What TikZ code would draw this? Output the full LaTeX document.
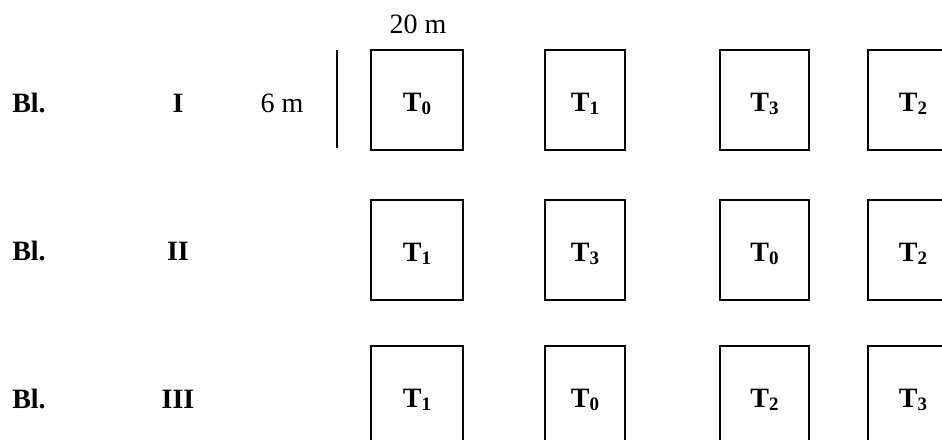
\documentclass[tikz,border=0pt]{standalone}
\usepackage{fontspec}
\setmainfont{Liberation Serif}
\newcommand\tlab[1]{T\raisebox{-3pt}{\fontsize{19}{19}\selectfont #1}}
\begin{document}
\begin{tikzpicture}[x=1pt,y=-1pt,
  plotbox/.style={draw, line width=1.5pt, inner sep=0pt, minimum height=100pt,
    font=\fontsize{28}{30}\selectfont\bfseries, text height=23pt, text depth=0pt},
  rowlab/.style={anchor=base, font=\fontsize{28}{30}\selectfont\bfseries},
  dimlab/.style={anchor=base, font=\fontsize{28}{30}\selectfont}]
\clip (0,0) rectangle (942,439);
\useasboundingbox (0,0) rectangle (942,439);
% row labels
\node[rowlab] (bl1) at (29,112) {Bl.};
\node[rowlab] (bl2) at (29,260) {Bl.};
\node[rowlab] (bl3) at (29,408) {Bl.};
\node[rowlab] (r1) at (178,112) {I};
\node[rowlab] (r2) at (178,260) {II};
\node[rowlab] (r3) at (178,408) {III};
% dimensions
\node[dimlab] (six) at (282,112) {6 m};
\node[dimlab] (twenty) at (418,33) {20 m};
\coordinate (v1) at (337,50);
\coordinate (v2) at (337,148);
\draw[line width=1.5pt] (v1) -- (v2);
% plots row 1
\node[plotbox, minimum width=92pt] (p11) at (417,100) {\tlab{0}};
\node[plotbox, minimum width=80pt] (p12) at (585,100) {\tlab{1}};
\node[plotbox, minimum width=89pt] (p13) at (764.5,100) {\tlab{3}};
\node[plotbox, minimum width=90pt] (p14) at (913,100) {\tlab{2}};
% row 2
\node[plotbox, minimum width=92pt] (p21) at (417,250) {\tlab{1}};
\node[plotbox, minimum width=80pt] (p22) at (585,250) {\tlab{3}};
\node[plotbox, minimum width=89pt] (p23) at (764.5,250) {\tlab{0}};
\node[plotbox, minimum width=90pt] (p24) at (913,250) {\tlab{2}};
% row 3
\node[plotbox, minimum width=92pt] (p31) at (417,396) {\tlab{1}};
\node[plotbox, minimum width=80pt] (p32) at (585,396) {\tlab{0}};
\node[plotbox, minimum width=89pt] (p33) at (764.5,396) {\tlab{2}};
\node[plotbox, minimum width=90pt] (p34) at (913,396) {\tlab{3}};
\end{tikzpicture}
\end{document}
